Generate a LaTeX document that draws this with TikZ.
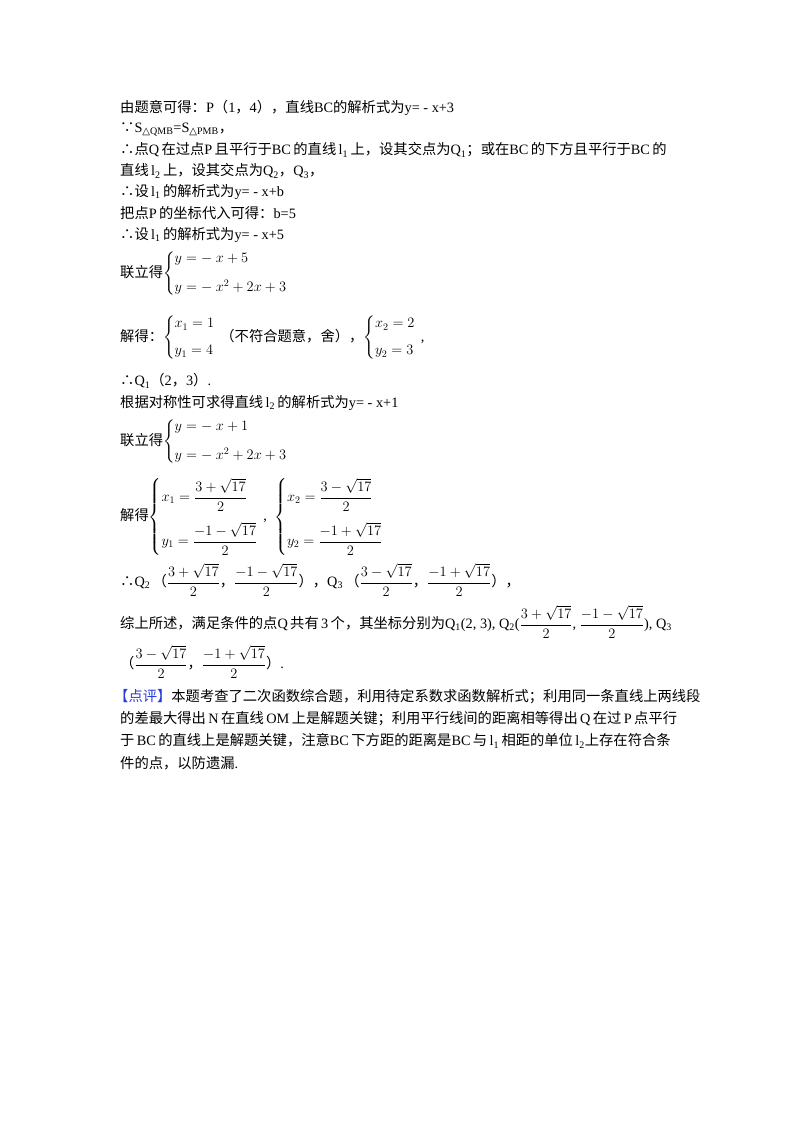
\documentclass[tikz,border=0pt]{standalone}
\usepackage{amsmath}
\usepackage{fontspec}
\setmainfont{Liberation Serif}
\newfontfamily\cjk{Noto Sans CJK SC}
\newfontfamily\dvs{DejaVu Sans}
\newcommand\zh[1]{{\cjk #1}}
\newcommand\tri{{\dvs △}}
\definecolor{pjblue}{RGB}{40,60,220}
\begin{document}
\begin{tikzpicture}[x=1pt,y=-1pt,
  ln/.style={anchor=west,inner sep=0pt,font=\fontsize{14.3}{17}\selectfont}]
\useasboundingbox (0,0) rectangle (800,1132);
\node[ln] (l1) at (120,108) {\zh{由题意可得：}P\zh{（}1\zh{，}4\zh{），直线}BC\zh{的解析式为}y= - x+3};
\node[ln] (l2) at (120,129) {\zh{∵}S\textsubscript{\tri QMB}=S\textsubscript{\tri PMB}\zh{，}};
\node[ln] (l3) at (120,150) {\zh{∴点}Q\,\zh{在过点}P\,\zh{且平行于}BC\,\zh{的直线}\,l\textsubscript{1}\,\zh{上，设其交点为}Q\textsubscript{1}\zh{；或在}BC\,\zh{的下方且平行于}BC\,\zh{的}};
\node[ln] (l4) at (120,171) {\zh{直线}\,l\textsubscript{2}\,\zh{上，设其交点为}Q\textsubscript{2}\zh{，}Q\textsubscript{3}\zh{，}};
\node[ln] (l5) at (120,192) {\zh{∴设}\,l\textsubscript{1}\,\zh{的解析式为}y= - x+b};
\node[ln] (l6) at (120,213) {\zh{把点}P\,\zh{的坐标代入可得：}b=5};
\node[ln] (l7) at (120,235) {\zh{∴设}\,l\textsubscript{1}\,\zh{的解析式为}y= - x+5};
\node[ln] (l8) at (120,274) {\zh{联立得}$\left\{\begin{array}{@{}l}y=-\ x+5\\[12pt] y=-\ x^2+2x+3\end{array}\right.$};
\node[ln] (l9) at (120,338) {\zh{解得：}$\left\{\begin{array}{@{}l}x_1=1\\[10pt] y_1=4\end{array}\right.$\zh{（不符合题意，舍），}$\left\{\begin{array}{@{}l}x_2=2\\[10pt] y_2=3\end{array}\right.$,};
\node[ln] (l10) at (120,381) {\zh{∴}Q\textsubscript{1}\zh{（}2\zh{，}3\zh{）}.};
\node[ln] (l11) at (120,403) {\zh{根据对称性可求得直线}\,l\textsubscript{2}\,\zh{的解析式为}y= - x+1};
\node[ln] (l12) at (120,442) {\zh{联立得}$\left\{\begin{array}{@{}l}y=-\ x+1\\[12pt] y=-\ x^2+2x+3\end{array}\right.$};
\node[ln] (l13) at (120,517) {\zh{解得}$\left\{\begin{array}{@{}l}x_1=\dfrac{3+\sqrt{17}}{2}\\[16pt] y_1=\dfrac{-1-\sqrt{17}}{2}\end{array}\right.$,\ \ $\left\{\begin{array}{@{}l}x_2=\dfrac{3-\sqrt{17}}{2}\\[16pt] y_2=\dfrac{-1+\sqrt{17}}{2}\end{array}\right.$};
\node[ln] (l14) at (120,580) {\zh{∴}Q\textsubscript{2}\,\zh{（}$\dfrac{3+\sqrt{17}}{2}$\zh{，}$\dfrac{-1-\sqrt{17}}{2}$\zh{），}Q\textsubscript{3}\,\zh{（}$\dfrac{3-\sqrt{17}}{2}$\zh{，}$\dfrac{-1+\sqrt{17}}{2}$\zh{），}};
\node[ln] (l15) at (120,622) {\zh{综上所述，满足条件的点}Q\,\zh{共有}\,3\,\zh{个，其坐标分别为}Q\textsubscript{1}(2, 3), Q\textsubscript{2}($\dfrac{3+\sqrt{17}}{2}$, $\dfrac{-1-\sqrt{17}}{2}$), Q\textsubscript{3}};
\node[ln] (l16) at (120,662) {\zh{（}$\dfrac{3-\sqrt{17}}{2}$\zh{，}$\dfrac{-1+\sqrt{17}}{2}$\zh{）}.};
\node[ln] (l17) at (114,697) {\textcolor{pjblue}{\zh{【点评】}}\zh{本题考查了二次函数综合题，利用待定系数求函数解析式；利用同一条直线上两线段}};
\node[ln] (l18) at (120,719) {\zh{的差最大得出}\,N\,\zh{在直线}\,OM\,\zh{上是解题关键；利用平行线间的距离相等得出}\,Q\,\zh{在过}\,P\,\zh{点平行}};
\node[ln] (l19) at (120,741) {\zh{于}\,BC\,\zh{的直线上是解题关键，注意}BC\,\zh{下方距的距离是}BC\,\zh{与}\,l\textsubscript{1}\,\zh{相距的单位}\,l\textsubscript{2}\zh{上存在符合条}};
\node[ln] (l20) at (120,763) {\zh{件的点，以防遗漏}.};
\end{tikzpicture}
\end{document}
